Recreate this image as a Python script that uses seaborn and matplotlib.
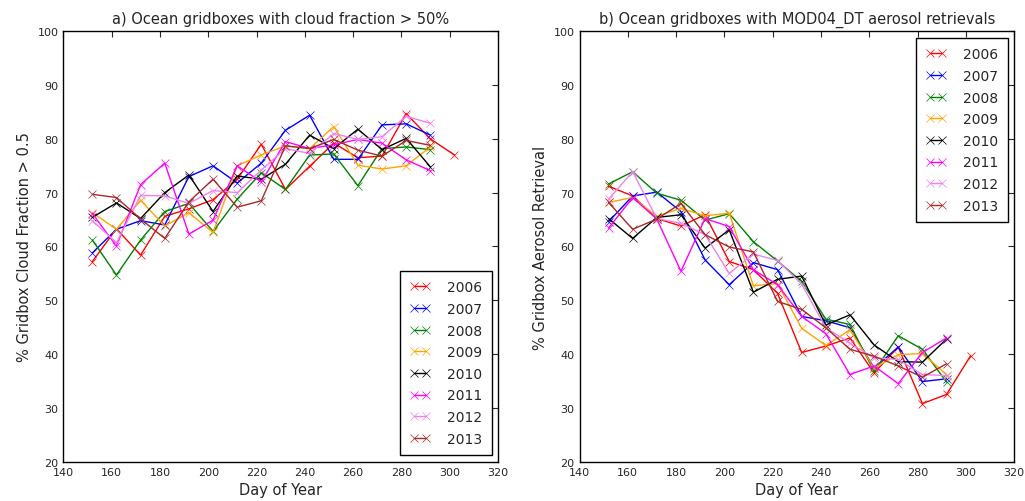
import pandas as pd
import matplotlib
matplotlib.use('Agg')
import matplotlib.pyplot as plt
import seaborn as sns

days = [152, 162, 172, 182, 192, 202, 212, 222, 232, 242, 252, 262, 272, 282, 292, 302]
years = ['2006', '2007', '2008', '2009', '2010', '2011', '2012', '2013']
colours = ['red', 'blue', 'green', 'orange', 'black', 'magenta', 'violet', 'brown']

# % of ocean gridboxes with cloud fraction > 0.5
cloud_2006 = [57.2, 63.3, 58.4, 65.6, 67.0, 68.7, 72.5, 79.0, 70.6, 74.9, 79.2, 76.5, 76.8, 84.7, 80.0, 77.0]
cloud_2007 = [58.8, 63.2, 64.8, 64.0, 73.0, 75.0, 71.8, 75.5, 81.6, 84.4, 76.2, 76.2, 82.6, 82.8, 80.7]
cloud_2008 = [61.2, 54.7, 61.2, 66.5, 68.0, 62.8, 68.8, 73.7, 70.6, 77.0, 77.2, 71.3, 78.2, 78.5, 78.0]
cloud_2009 = [66.3, 63.2, 68.6, 63.8, 66.3, 62.6, 75.0, 77.0, 78.7, 78.2, 82.3, 75.1, 74.4, 75.0, 78.5]
cloud_2010 = [65.4, 68.1, 65.2, 70.0, 73.3, 66.5, 73.1, 72.5, 75.3, 80.7, 78.2, 81.8, 78.0, 80.1, 74.8]
cloud_2011 = [66.1, 60.1, 71.5, 75.5, 62.3, 64.9, 75.0, 72.0, 79.5, 78.2, 78.9, 79.9, 79.2, 76.1, 74.1]
cloud_2012 = [64.8, 60.7, 69.5, 69.4, 68.0, 70.4, 70.0, 74.2, 78.2, 77.3, 81.0, 79.9, 80.4, 84.2, 82.9]
cloud_2013 = [69.7, 69.1, 65.1, 61.5, 68.3, 72.5, 67.3, 68.5, 78.7, 78.2, 79.9, 77.9, 76.8, 79.7, 78.8]

# % of ocean gridboxes with MOD04_DT aerosol retrievals
aer_2006 = [71.2, 69.4, 65.2, 63.8, 65.9, 57.2, 55.7, 51.3, 40.3, 41.5, 43.0, 36.5, 41.3, 30.8, 32.5, 39.7]
aer_2007 = [64.6, 69.4, 70.1, 66.5, 57.5, 52.9, 57.0, 55.7, 47.0, 46.2, 44.9, 37.4, 41.3, 34.9, 35.4]
aer_2008 = [71.6, 73.9, 69.9, 68.6, 64.9, 66.1, 60.9, 57.3, 53.5, 46.5, 45.5, 36.8, 43.4, 40.9, 34.8]
aer_2009 = [68.2, 69.1, 65.6, 67.1, 65.7, 66.2, 52.7, 53.1, 44.8, 41.6, 44.5, 37.4, 39.9, 40.1, 36.2]
aer_2010 = [65.2, 61.5, 65.4, 65.9, 59.7, 63.1, 51.5, 53.9, 54.5, 45.4, 47.3, 41.7, 38.6, 38.5, 42.8]
aer_2011 = [63.4, 69.1, 65.1, 55.4, 65.2, 63.7, 55.7, 52.9, 47.0, 43.8, 36.2, 37.8, 34.5, 40.3, 43.0]
aer_2012 = [68.8, 73.9, 65.2, 64.3, 62.2, 55.0, 58.6, 57.4, 53.0, 44.9, 42.0, 39.3, 39.0, 36.2, 36.0]
aer_2013 = [68.2, 63.2, 65.1, 68.0, 62.2, 59.9, 59.0, 49.8, 48.3, 44.9, 40.9, 39.6, 37.8, 35.7, 38.2]

cloud = [cloud_2006, cloud_2007, cloud_2008, cloud_2009, cloud_2010, cloud_2011, cloud_2012, cloud_2013]
aer = [aer_2006, aer_2007, aer_2008, aer_2009, aer_2010, aer_2011, aer_2012, aer_2013]


def long_form(series):
    rows = []
    for year, vals in zip(years, series):
        for d, v in zip(days, vals):
            rows.append({'day': d, 'value': v, 'year': year})
    return pd.DataFrame(rows)


def panel(ax, series, title, ylabel, legend_loc):
    data = long_form(series)
    for year, col in zip(years, colours):
        sub = data[data['year'] == year]
        sns.lineplot(data=sub, x='day', y='value', color=col, marker='x',
                     markersize=6, markeredgewidth=0.5, markeredgecolor=col,
                     linewidth=1.0, label=year, ax=ax)
    ax.set_xlim(140, 320)
    ax.set_ylim(20, 100)
    ax.set_xticks(range(140, 321, 20))
    ax.set_yticks(range(20, 101, 10))
    ax.tick_params(direction='in', top=True, right=True, labelsize=8, length=4)
    ax.set_title(title, fontsize=10.5)
    ax.set_xlabel('Day of Year', fontsize=10.5)
    ax.set_ylabel(ylabel, fontsize=10.5)
    for s in ax.spines.values():
        s.set_linewidth(1.0)
        s.set_color('black')
    leg = ax.legend(loc=legend_loc, fontsize=10, numpoints=2, fancybox=False,
                    framealpha=1, edgecolor='black', handlelength=1.45,
                    borderpad=0.7, handletextpad=1.2, borderaxespad=0.45,
                    labelspacing=0.55)
    leg.get_frame().set_linewidth(1.0)


sns.set_style('white')
plt.rcParams['font.family'] = ['DejaVu Sans']

fig = plt.figure(figsize=(10.25, 5.02), dpi=100)
ax1 = fig.add_axes([0.0618, 0.0783, 0.4240, 0.8574])
ax2 = fig.add_axes([0.5654, 0.0783, 0.4240, 0.8574])

panel(ax1, cloud, 'a) Ocean gridboxes with cloud fraction > 50%',
      '% Gridbox Cloud Fraction > 0.5', 'lower right')
panel(ax2, aer, 'b) Ocean gridboxes with MOD04_DT aerosol retrievals',
      '% Gridbox Aerosol Retrieval', 'upper right')

fig.savefig('out.png', dpi=100, facecolor='white')
